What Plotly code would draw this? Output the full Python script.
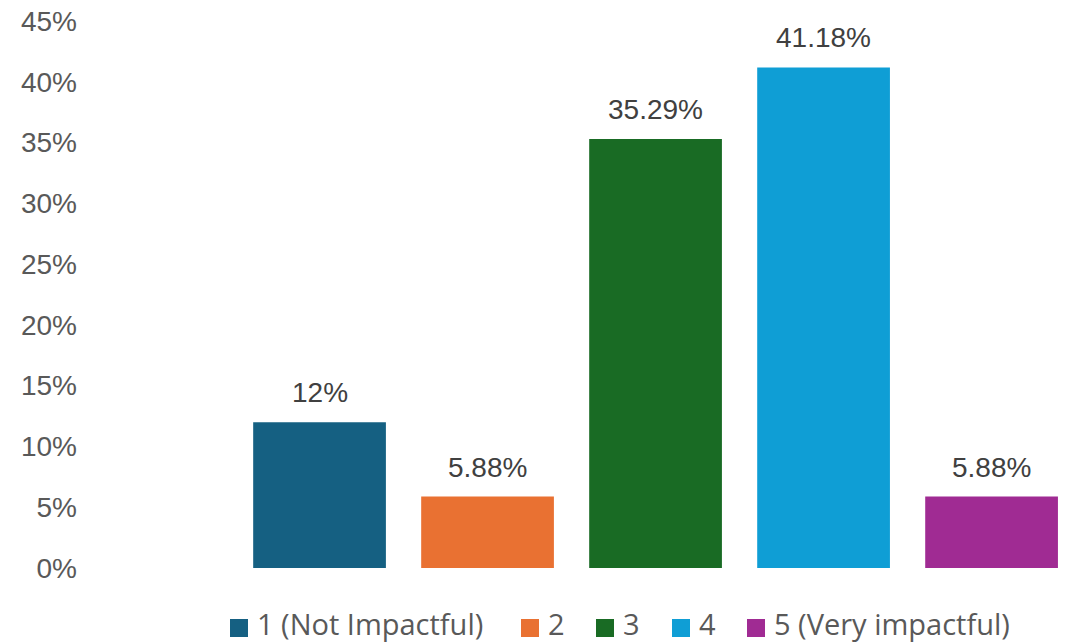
import plotly.graph_objects as go

# Survey responses: share of respondents per impact rating
series_names = ["1 (Not Impactful)", "2", "3", "4", "5 (Very impactful)"]
shares = [0.12, 0.0588, 0.3529, 0.4118, 0.0588]
share_labels = ["12%", "5.88%", "35.29%", "41.18%", "5.88%"]
colors = ["#156082", "#E97132", "#196B24", "#0F9ED5", "#A02B93"]
y_ticks = [0, 0.05, 0.10, 0.15, 0.20, 0.25, 0.30, 0.35, 0.40, 0.45]
y_tick_text = ["0%", "5%", "10%", "15%", "20%", "25%", "30%", "35%", "40%", "45%"]

positions = list(range(1, len(series_names) + 1))

# Figure geometry (pixels)
W, H = 1066, 643
M_L, M_R, M_T, M_B = 85, 0, 21, 75
plot_w = W - M_L - M_R
plot_h = H - M_T - M_B

# Legend layout: left edge of each swatch, swatch size, row centres (pixels)
legend_swatch_left = [230, 521, 596, 672, 747]
swatch = 18
text_offset = 26
swatch_row_y = 628
text_row_y = 623


def px_to_paper_x(px):
    return (px - M_L) / plot_w


def px_to_paper_y(py):
    return (H - M_B - py) / plot_h


fig = go.Figure()
for pos, name, val, col in zip(positions, series_names, shares, colors):
    fig.add_trace(go.Bar(
        x=[pos], y=[val], name=name,
        marker=dict(color=col, line=dict(width=0)),
        width=0.79,
    ))

# Value labels above the bars
for pos, val, lab in zip(positions, shares, share_labels):
    fig.add_annotation(
        x=pos, y=val, text=lab, showarrow=False,
        yanchor="bottom", yshift=12,
        font=dict(family="Liberation Sans, Arial, sans-serif", size=28, color="#404040"),
    )

# Legend row: coloured swatch followed by the series name
for left, name, col in zip(legend_swatch_left, series_names, colors):
    fig.add_shape(
        type="rect", xref="paper", yref="paper",
        x0=px_to_paper_x(left), x1=px_to_paper_x(left + swatch),
        y0=px_to_paper_y(swatch_row_y + swatch / 2), y1=px_to_paper_y(swatch_row_y - swatch / 2),
        fillcolor=col, line=dict(width=0),
    )
    fig.add_annotation(
        xref="paper", yref="paper",
        x=px_to_paper_x(left + text_offset), y=px_to_paper_y(text_row_y),
        xanchor="left", yanchor="middle", text=name, showarrow=False,
        borderpad=0,
        font=dict(family="Open Sans, Liberation Sans, sans-serif", size=29, color="#595959"),
    )

fig.update_layout(
    width=W, height=H,
    margin=dict(l=M_L, r=M_R, t=M_T, b=M_B),
    paper_bgcolor="white", plot_bgcolor="white",
    showlegend=False,
    barmode="overlay",
    xaxis=dict(range=[-0.396, 5.443], showticklabels=False, showgrid=False,
               zeroline=False, showline=False, ticks=""),
    yaxis=dict(range=[0, 0.45], tickvals=y_ticks, ticktext=y_tick_text,
               showgrid=False, zeroline=False, showline=False, ticks="",
               ticklabelstandoff=7,
               tickfont=dict(family="Liberation Sans, Arial, sans-serif", size=28, color="#595959")),
)

fig.write_html("out.html")
